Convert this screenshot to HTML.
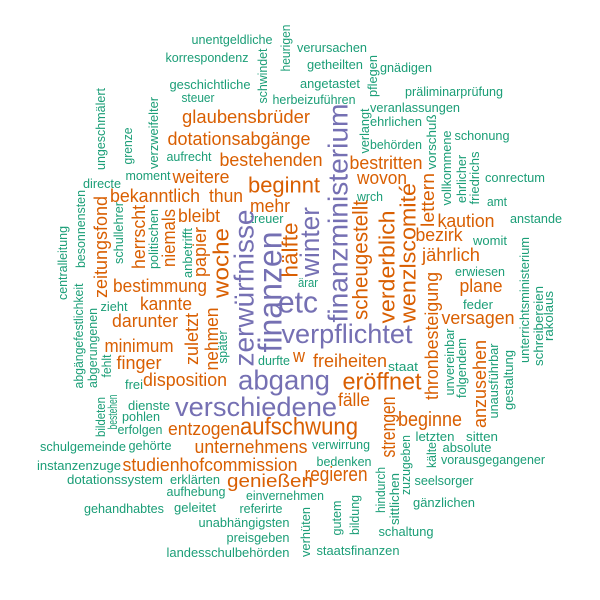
<!DOCTYPE html>
<html>
<head>
<meta charset="utf-8">
<style>
html,body{margin:0;padding:0;background:#fff;}
svg{display:block;}
text{font-family:"Liberation Sans",Arial,sans-serif;}
</style>
</head>
<body>
<svg id="cloud" width="600" height="600" viewBox="0 0 600 600" xmlns="http://www.w3.org/2000/svg">
<rect width="600" height="600" fill="#ffffff"/>
</svg>
<script>
// [word, cx, cy, size, color-group, rotated(1=vertical), length]
const purpleWords = [
  ["etc",298,302,31,0,40],
  ["verpflichtet",347,334,27,0,131],
  ["abgang",284,380,28,0,92],
  ["verschiedene",256,407,27,0,162],
  ["zerwürfnisse",244,288,28,1,157],
  ["finanzen",270,292,33,1,121],
  ["winter",310,242,27,1,70],
  ["finanzministerium",338,213,28,1,219]
];
const orangeWords = [
  ["glaubensbrüder",246,117,18,0,128],
  ["dotationsabgänge",239,139,18,0,143],
  ["bestehenden",271,160,18,0,103],
  ["weitere",201,177,18,0,57],
  ["beginnt",284,185,22,0,72],
  ["bekanntlich",155,196,18,0,90],
  ["thun",226,196,18,0,34],
  ["mehr",270,206,18,0,40],
  ["bleibt",199,216,18,0,42],
  ["bestritten",386,163,18,0,73],
  ["wovon",382,178,18,0,50],
  ["kaution",466,221,18,0,57],
  ["bezirk",439,235,18,0,47],
  ["jährlich",451,255,18,0,58],
  ["plane",481,286,18,0,43],
  ["versagen",478,318,18,0,73],
  ["eröffnet",382,382,24,0,79],
  ["freiheiten",350,361,18,0,74],
  ["fälle",354,400,18,0,32],
  ["w",299,356,18,0,12],
  ["beginne",430,420,20,0,64],
  ["regieren",336,475,20,0,63],
  ["aufschwung",299,427,24,0,118],
  ["entzogen",204,429,18,0,72],
  ["unternehmens",251,447,18,0,113],
  ["studienhofcommission",210,465,18,0,175],
  ["genießen",270,481,18,0,86],
  ["bestimmung",160,286,18,0,94],
  ["kannte",166,304,18,0,52],
  ["darunter",145,321,18,0,66],
  ["minimum",139,346,18,0,69],
  ["finger",139,363,18,0,45],
  ["disposition",185,380,18,0,84],
  ["zeitungsfond",101,247,18,1,102],
  ["herrscht",139,237,18,1,64],
  ["niemals",169,238,18,1,58],
  ["papier",200,252,18,1,50],
  ["woche",221,263,22,1,70],
  ["hälfte",290,250,22,1,55],
  ["scheugestellt",361,260,21,1,120],
  ["verderblich",387,267,22,1,113],
  ["wenzlscomité",408,253,22,1,140],
  ["lettern",428,200,18,1,54],
  ["thronbesteigung",432,336,18,1,128],
  ["anzusehen",480,384,18,1,88],
  ["strengen",389,427,20,1,61],
  ["zuletzt",192,339,18,1,52],
  ["nehmen",212,339,18,1,63]
];
const tealWords = [
  ["unentgeldliche",232,40,12.5,0,81],
  ["korrespondenz",207,58,12.5,0,83],
  ["geschichtliche",210,85,12.5,0,81],
  ["steuer",198,98,12.5,0,33],
  ["herbeizuführen",314,100,12.5,0,83],
  ["aufrecht",189,157,12.5,0,45],
  ["moment",148,176,12.5,0,45],
  ["directe",102,184,12.5,0,38],
  ["treuer",267,219,12.5,0,33],
  ["verursachen",332,48,12.5,0,70],
  ["getheilten",335,65,12.5,0,56],
  ["gnädigen",406,68,12.5,0,52],
  ["angetastet",330,84,12.5,0,60],
  ["präliminarprüfung",454,92,12.5,0,98],
  ["veranlassungen",415,108,12.5,0,90],
  ["ehrlichen",396,122,12.5,0,52],
  ["behörden",396,145,12.5,0,52],
  ["schonung",482,136,12.5,0,55],
  ["conrectum",515,178,12.5,0,60],
  ["amt",497,202,12.5,0,20],
  ["anstande",536,219,12.5,0,52],
  ["womit",490,241,12.5,0,34],
  ["erwiesen",480,272,12.5,0,50],
  ["wrch",370,197,12.5,0,26],
  ["ärar",308,283,12.5,0,20],
  ["feder",478,305,12.5,0,30],
  ["staat",403,367,12.5,0,30],
  ["durfte",274,361,12.5,0,32],
  ["letzten",435,437,12.5,0,39],
  ["sitten",482,437,12.5,0,32],
  ["absolute",467,448,12.5,0,49],
  ["vorausgegangener",493,460,12.5,0,104],
  ["seelsorger",444,481,12.5,0,59],
  ["gänzlichen",444,503,12.5,0,62],
  ["schaltung",406,532,12.5,0,55],
  ["staatsfinanzen",358,551,12.5,0,83],
  ["bedenken",344,462,12.5,0,55],
  ["verwirrung",341,445,12.5,0,58],
  ["einvernehmen",285,496,12.5,0,78],
  ["gehörte",150,446,12.5,0,43],
  ["schulgemeinde",83,447,12.5,0,86],
  ["instanzenzuge",79,466,12.5,0,84],
  ["dotationssystem",115,480,12.5,0,96],
  ["erklärten",195,480,12.5,0,50],
  ["aufhebung",196,492,12.5,0,59],
  ["gehandhabtes",124,509,12.5,0,80],
  ["geleitet",195,508,12.5,0,42],
  ["referirte",261,509,12.5,0,43],
  ["unabhängigsten",244,523,12.5,0,91],
  ["preisgeben",258,538,12.5,0,63],
  ["landesschulbehörden",228,553,12.5,0,123],
  ["dienste",149,406,12.5,0,42],
  ["pohlen",141,417,12.5,0,38],
  ["erfolgen",140,430,12.5,0,45],
  ["zieht",114,307,12.5,0,27],
  ["frei",134,385,12.5,0,18],
  ["schwindet",263,76,12.5,1,55],
  ["heurigen",286,48,12.5,1,47],
  ["ungeschmälert",101,129,12.5,1,82],
  ["grenze",128,146,12.5,1,37],
  ["verzweifelter",154,133,12.5,1,72],
  ["besonnensten",81,229,12.5,1,78],
  ["centralleitung",63,263,12.5,1,74],
  ["schullehrer",119,233,12.5,1,62],
  ["politischen",154,239,12.5,1,60],
  ["anbetrifft",188,253,12.5,1,50],
  ["verlangt",365,131,12.5,1,45],
  ["pflegen",373,76,12.5,1,42],
  ["vorschuß",432,142,12.5,1,55],
  ["vollkommene",447,168,12.5,1,75],
  ["ehrlicher",462,179,12.5,1,48],
  ["friedrichs",475,178,12.5,1,53],
  ["unterrichtsministerium",525,300,12.5,1,126],
  ["schreibereien",539,326,12.5,1,80],
  ["rakolaus",549,316,12.5,1,50],
  ["unvereinbar",450,362,12.5,1,67],
  ["folgendem",462,368,12.5,1,60],
  ["unausführbar",494,381,12.5,1,75],
  ["gestaltung",509,380,12.5,1,60],
  ["später",223,347,12.5,1,33],
  ["kälte",432,455,12.5,1,26],
  ["zuzugeben",406,465,12.5,1,60],
  ["hindurch",381,490,12.5,1,46],
  ["sittlichen",395,499,12.5,1,52],
  ["bildung",355,515,12.5,1,40],
  ["gutem",337,518,12.5,1,35],
  ["verhüten",306,532,12.5,1,50],
  ["bildeten",101,417,12.5,1,40],
  ["bestehen",113,412,12.5,1,35],
  ["abgängefestlichkeit",79,336,12.5,1,105],
  ["abgerungenen",93,348,12.5,1,80],
  ["fehlt",107,366,12.5,1,23]
];
const svg = document.getElementById('cloud');
const NS = 'http://www.w3.org/2000/svg';
function draw(list, color) {
  list.forEach(w => {
    const t = document.createElementNS(NS, 'text');
    
    
    t.setAttribute('x', w[1]);
    t.setAttribute('y', w[2]);
    t.setAttribute('font-size', w[3]);
    t.setAttribute('fill', color);
    t.setAttribute('text-anchor', 'middle');
    t.setAttribute('dominant-baseline', 'central');
    t.setAttribute('textLength', w[5]);
    t.setAttribute('lengthAdjust', 'spacingAndGlyphs');
    if (w[4] === 1) t.setAttribute('transform', 'rotate(-90 ' + w[1] + ' ' + w[2] + ')');
    t.textContent = w[0];
    svg.appendChild(t);
  });
}
draw(tealWords, '#1B9E77');
draw(orangeWords, '#D95F02');
draw(purpleWords, '#7570B3');
</script>
</body>
</html>
